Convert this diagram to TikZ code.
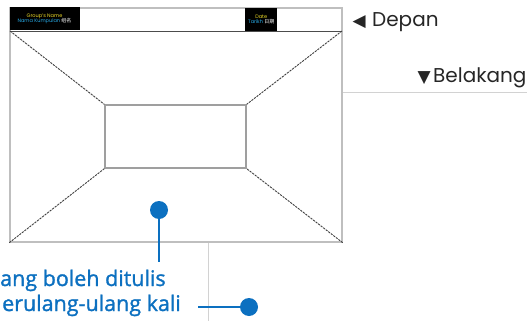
\documentclass[tikz,border=0pt]{standalone}
\usepackage{fontspec}
\setmainfont{Poppins}
\newfontfamily\symfont{DejaVu Sans}
\newfontfamily\notefont[FakeBold=1.3]{Open Sans}
\newfontfamily\cjk{Noto Sans CJK SC}
\usetikzlibrary{positioning,shadows}
\definecolor{noteblue}{RGB}{12,112,192}
\definecolor{tagyellow}{RGB}{238,220,40}
\definecolor{tagcyan}{RGB}{40,170,230}
\tikzset{
 card/.style
  = {rectangle, draw=gray!50, fill=white, line width=1.4pt, inner sep=0pt,
     drop shadow={shadow xshift=1.2pt, shadow yshift=-1.2pt, opacity=0.25}},
 tag/.style
  = {rectangle, fill=black, inner sep=0pt, align=center, anchor=north west,
     minimum height=23pt, font=\fontsize{5}{6}\selectfont},
 wall/.style
  = {rectangle, draw=gray!75, line width=1.3pt, inner sep=0pt},
 fold/.style
  = {draw=black!75, dash pattern=on 2.2pt off 1pt, line width=0.9pt},
 guide/.style
  = {draw=gray!35, line width=0.8pt},
 pin/.style
  = {circle, fill=noteblue, minimum size=18pt, inner sep=0pt},
 pinline/.style
  = {draw=noteblue, line width=2.6pt},
 note/.style
  = {text=noteblue, font=\notefont\fontsize{21.5}{23}\selectfont, inner sep=0pt, anchor=base west},
 side/.style
  = {text=black!85, font=\fontsize{20}{22}\selectfont, inner sep=0pt, anchor=base west},
 pointer/.style
  = {text=black!85, font=\symfont\fontsize{17}{17}\selectfont, inner sep=0pt},
}
\begin{document}
\begin{tikzpicture}[x=1pt,y=-1pt]
\useasboundingbox (0,0) rectangle (527,321);

% Guide lines
\draw[guide] (342,92) -- (527,92);
\draw[guide] (208,242) -- (208,321);

% Card
\node[card, minimum width=332pt, minimum height=234pt] (card) at (176,125) {};
\coordinate (hl) at (10,31);
\coordinate (hr) at (342,31);
\draw[draw=gray!60!black, line width=0.8pt] (hl) -- (hr);

% Header tags
\node[tag, minimum width=70pt] (gname) at (card.north west)
  {\textcolor{tagyellow}{Group's Name}\\[-0.5pt]\textcolor{tagcyan}{Nama Kumpulan} \textcolor{white}{\cjk 组名}};
\node[tag, minimum width=32pt] (gdate) at (245,8)
  {\textcolor{tagyellow}{Date}\\[-0.5pt]\textcolor{tagcyan}{Tarikh} \textcolor{white}{\cjk 日期}};

% Back wall
\node[wall, minimum width=141pt, minimum height=63pt] (wall) at (175.5,136.5) {};

% Fold lines
\draw[fold] (hl) -- (wall.north west);
\draw[fold] (hr) -- (wall.north east);
\draw[fold] (card.south west) -- (wall.south west);
\draw[fold] (card.south east) -- (wall.south east);

% Side labels
\node[side] (front) at (372,27) {Depan};
\node[pointer, left=6pt of front.base west, anchor=base east] (frontmark) {◀};
\node[side] (back) at (433,82) {Belakang};
\node[pointer, left=2pt of back.base west, anchor=base east] (backmark) {▼};

% Callout
\node[pin] (pinA) at (159,210) {};
\coordinate (pinAend) at (159,262);
\draw[pinline] (pinA) -- (pinAend);
\node[note] (noteA) at (0,286) {ang boleh ditulis};
\node[note] (noteB) at (2,311) {erulang-ulang kali};
\node[pin] (pinB) at (249,307) {};
\coordinate (noteBend) at (198,307);
\draw[pinline] (noteBend) -- (pinB);

\end{tikzpicture}
\end{document}
